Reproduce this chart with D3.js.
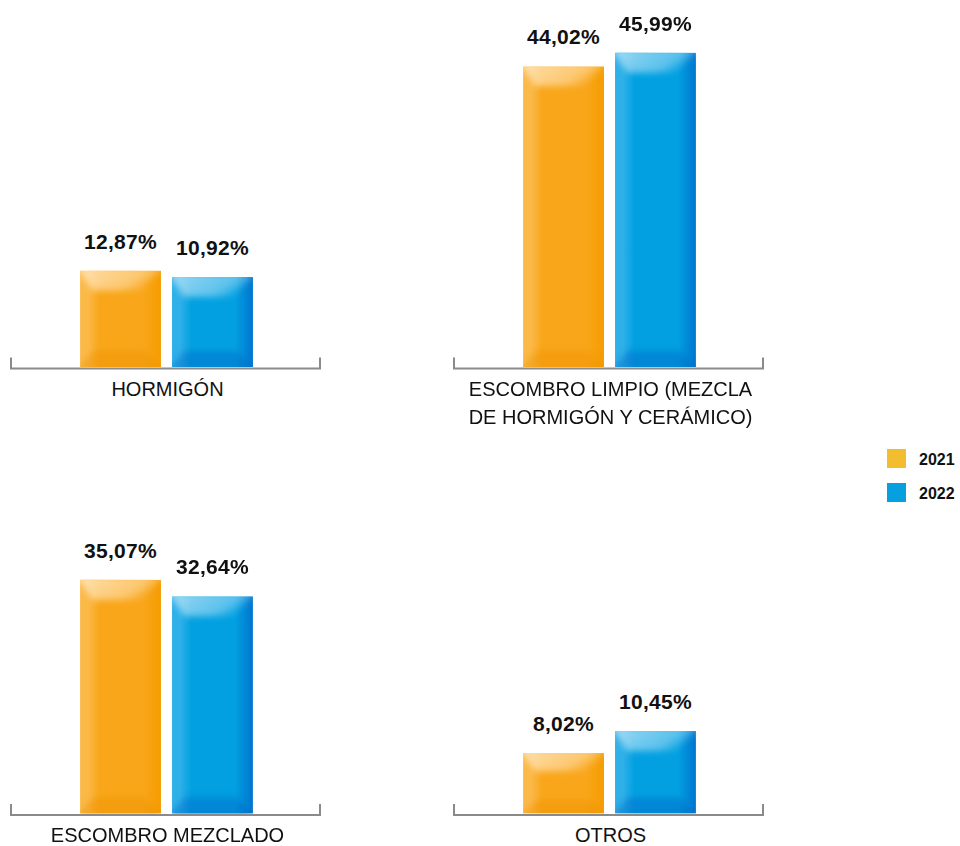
<!DOCTYPE html>
<html>
<head>
<meta charset="utf-8">
<script src="https://cdn.jsdelivr.net/npm/d3@7"></script>
<style>
  html, body { margin: 0; padding: 0; background: #fff; }
  svg { display: block; font-family: Arial, "Liberation Sans", Helvetica, sans-serif; }
</style>
</head>
<body>
<svg id="chart" width="960" height="846"></svg>
<script>
// Waste composition by type, share of total (%)
const categories = [
  ["HORMIGÓN"],
  ["ESCOMBRO LIMPIO (MEZCLA", "DE HORMIGÓN Y CERÁMICO)"],
  ["ESCOMBRO MEZCLADO"],
  ["OTROS"]
];
const years = ["2021", "2022"];
const values2021 = [12.87, 44.02, 35.07, 8.02];
const values2022 = [10.92, 45.99, 32.64, 10.45];
// value-axis bounds of each small chart
const axisMin = [-16.5, 0, 0, 1.34];
const axisMax = [81.0, 46.85, 48.06, 36.7];

const fmt = v => d3.format(".2f")(v).replace(".", ",") + "%";

const svg = d3.select("#chart");
const defs = svg.append("defs");

// panel geometry: 2 x 2 grid of small bar charts
const panelX = [[11, 320], [454, 763], [11, 320], [454, 763]];
const panelBase = [367, 367, 813.5, 813.5];
const plotH = 320;

const palette = {
  "2021": { base: "#F9A61A", light: "#FBB948", dark: "#F59C00", hi: "#FFE3B6", shade: "#EE9300", legend: "#F2BD2E" },
  "2022": { base: "#02A0E1", light: "#2FB0E8", dark: "#0074CE", hi: "#A6DDF5", shade: "#0068C8", legend: "#069FDF" }
};

// gradients for each series
years.forEach(y => {
  const p = palette[y];
  const h = defs.append("linearGradient").attr("id", "h" + y).attr("x1", 0).attr("x2", 1).attr("y1", 0).attr("y2", 0);
  h.append("stop").attr("offset", "0%").attr("stop-color", p.light);
  h.append("stop").attr("offset", "10%").attr("stop-color", p.light);
  h.append("stop").attr("offset", "24%").attr("stop-color", p.base);
  h.append("stop").attr("offset", "78%").attr("stop-color", p.base);
  h.append("stop").attr("offset", "100%").attr("stop-color", p.dark);
  const t = defs.append("linearGradient").attr("id", "t" + y).attr("x1", 0).attr("x2", 1).attr("y1", 0).attr("y2", 0.4);
  t.append("stop").attr("offset", "0%").attr("stop-color", p.hi).attr("stop-opacity", 0.95);
  t.append("stop").attr("offset", "75%").attr("stop-color", p.hi).attr("stop-opacity", 0.55);
  t.append("stop").attr("offset", "100%").attr("stop-color", p.hi).attr("stop-opacity", 0.0);
});
const blur = defs.append("filter").attr("id", "soft").attr("x", "-20%").attr("y", "-20%").attr("width", "140%").attr("height", "140%");
blur.append("feGaussianBlur").attr("stdDeviation", 3);

categories.forEach((cat, i) => {
  const g = svg.append("g");
  const [x0, x1] = panelX[i];
  const base = panelBase[i];

  const x = d3.scaleBand().domain(years).range([x0 + 1, x1 + 1]).paddingInner(0.12).paddingOuter(0.74);
  const y = d3.scaleLinear().domain([axisMin[i], axisMax[i]]).range([base, base - plotH]);

  const rows = years.map((yr, k) => ({ year: yr, value: (k === 0 ? values2021 : values2022)[i] }));

  rows.forEach(d => {
    const bx = x(d.year), bw = x.bandwidth();
    const by = y(d.value), bh = base - by;
    const p = palette[d.year];
    const clipId = `clip${i}_${d.year}`;
    defs.append("clipPath").attr("id", clipId)
      .append("rect").attr("x", bx).attr("y", by).attr("width", bw).attr("height", bh);

    const bar = g.append("g").attr("clip-path", `url(#${clipId})`);
    bar.append("rect")
      .attr("x", bx).attr("y", by).attr("width", bw).attr("height", bh)
      .attr("fill", `url(#h${d.year})`);

    const fx = bw * 0.15, ft = Math.min(20, bh * 0.3), fb = Math.min(16, bh * 0.22);
    const bev = bar.append("g").attr("filter", "url(#soft)");
    // top bevel
    bev.append("path")
      .attr("d", `M${bx - 4},${by - 4}L${bx + bw + 4},${by - 4}L${bx + bw - ft},${by + ft}L${bx + fx},${by + ft}Z`)
      .attr("fill", `url(#t${d.year})`);
    // bottom bevel
    bev.append("path")
      .attr("d", `M${bx - 4},${base + 4}L${bx + fx},${base - fb}L${bx + bw - fb},${base - fb}L${bx + bw + 4},${base + 4}Z`)
      .attr("fill", p.shade).attr("opacity", 0.45);

    g.append("text")
      .attr("x", bx + bw / 2).attr("y", by - 22)
      .attr("text-anchor", "middle")
      .attr("font-size", 21).attr("font-weight", "bold")
      .attr("letter-spacing", 0.3)
      .attr("fill", "#111")
      .text(fmt(d.value));
  });

  // category axis with end ticks
  const ay = base + 1.5;
  g.append("path")
    .attr("d", `M${x0},${ay - 11}V${ay}H${x1}V${ay - 11}`)
    .attr("fill", "none").attr("stroke", "#8a8a8a").attr("stroke-width", 2);

  const lbl = g.append("text")
    .attr("text-anchor", "middle")
    .attr("font-size", 20).attr("fill", "#111");
  cat.forEach((line, k) => {
    lbl.append("tspan")
      .attr("x", (x0 + x1) / 2 + 2)
      .attr("y", ay + 27 + k * 28)
      .text(line);
  });
});

// legend
const legend = svg.append("g");
years.forEach((yr, k) => {
  const ly = 449 + k * 34;
  legend.append("rect").attr("x", 887).attr("y", ly).attr("width", 19).attr("height", 19)
    .attr("fill", palette[yr].legend);
  legend.append("text").attr("x", 919).attr("y", ly + 16)
    .attr("font-size", 16).attr("font-weight", "bold").attr("fill", "#111")
    .text(yr);
});
</script>
</body>
</html>
